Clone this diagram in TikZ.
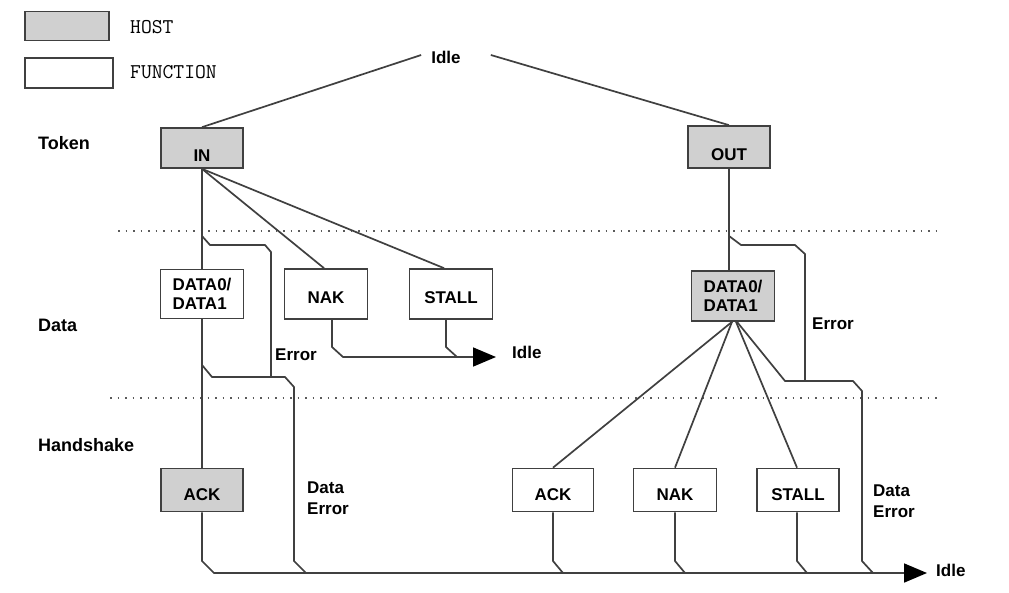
\documentclass[tikz,border=0pt]{standalone}
\usepackage{fontspec}
\setmainfont{Liberation Sans}
\usetikzlibrary{arrows.meta}
\definecolor{hostgray}{RGB}{208,208,208}
\definecolor{lineclr}{RGB}{64,64,64}
\definecolor{dotclr}{RGB}{90,90,90}
\begin{document}
\begin{tikzpicture}[x=1pt,y=-1pt,
 box/.style={draw=lineclr,line width=1.7pt,inner sep=0pt,align=left,font=\fontsize{17}{19}\selectfont\bfseries},
 host/.style={box,fill=hostgray},
 func/.style={box,fill=white},
 conn/.style={draw=lineclr,line width=1.7pt},
 arr/.style={conn,-{Triangle[length=23pt,width=19pt,color=black]}},
 lbl/.style={font=\fontsize{17}{21}\selectfont\bfseries,inner sep=0pt,align=left},
 lvl/.style={font=\fontsize{18}{20}\selectfont\bfseries,inner sep=0pt,anchor=west},
 legend/.style={font=\ttfamily\fontsize{21}{24}\selectfont,inner sep=0pt,anchor=west},
 dots/.style={draw=dotclr,line width=1.3pt,dash pattern=on 1.5pt off 6pt},
 low/.style={text height=#1,text depth=0pt}
]
\useasboundingbox (0,0) rectangle (1009,592);
\fill[white] (0,0) rectangle (1009,592);

% legend
\node[host,minimum width=84pt,minimum height=29pt] (lgH) at (67,26) {};
\node[legend] (lgHt) at (130,27) {HOST};
\node[func,minimum width=88pt,minimum height=30pt] (lgF) at (69,73) {};
\node[legend] (lgFt) at (130,72) {FUNCTION};

% level labels
\node[lvl] (lvT) at (38,143) {Token};
\node[lvl] (lvD) at (38,325) {Data};
\node[lvl] (lvH) at (38,445) {Handshake};

% dotted separators
\coordinate (d1a) at (118,231); \coordinate (d1b) at (940,231);
\coordinate (d2a) at (110,398); \coordinate (d2b) at (940,398);
\draw[dots] (d1a) -- (d1b);
\draw[dots] (d2a) -- (d2b);

% boxes
\node[host,minimum width=82pt,minimum height=40pt,low=26pt] (IN) at (202,148) {IN};
\node[host,minimum width=82pt,minimum height=42pt,low=26pt] (OUT) at (729,147) {OUT};
\node[func,minimum width=83pt,minimum height=49pt] (DL) at (202,294) {DATA0/\\DATA1};
\node[func,minimum width=83pt,minimum height=50pt,low=18pt] (NL) at (326,294) {NAK};
\node[func,minimum width=83pt,minimum height=50pt,low=18pt] (SL) at (451,294) {STALL};
\node[host,minimum width=83pt,minimum height=50pt] (DR) at (733,296) {DATA0/\\DATA1};
\node[host,minimum width=82pt,minimum height=43pt,low=20pt] (AL) at (202,490) {ACK};
\node[func,minimum width=81pt,minimum height=43pt,low=20pt] (AR) at (553,490) {ACK};
\node[func,minimum width=83pt,minimum height=43pt,low=20pt] (NR) at (675,490) {NAK};
\node[func,minimum width=82pt,minimum height=43pt,low=20pt] (SR) at (798,490) {STALL};

% text labels
\node[lbl,anchor=center] (idleT) at (446,57) {Idle};
\node[lbl,anchor=west] (idleM) at (512,352) {Idle};
\node[lbl,anchor=west] (idleB) at (936,570) {Idle};
\node[lbl,anchor=west] (errL) at (275,355) {Error};
\node[lbl,anchor=west] (errR) at (812,324) {Error};
\node[lbl,anchor=north west] (deL) at (307,482) {Data\\Error};
\node[lbl,anchor=north west] (deR) at (873,485) {Data\\Error};

% Idle to tokens
\draw[conn] (IN.north) -- ([xshift=-10pt,yshift=2pt]idleT.west);
\draw[conn] ([xshift=30pt,yshift=2pt]idleT.east) -- (OUT.north);

% IN branch
\draw[conn] (IN.south) -- (DL.north);
\draw[conn] (IN.south) -- ([xshift=-2pt]NL.north);
\draw[conn] (IN.south) -- ([xshift=-7pt]SL.north);
\coordinate (jL1) at (202,236);
\coordinate (jL2) at (271,377);
\draw[conn] (jL1) -- (210,245) -- (265,245) -- (271,252) -- (jL2);
\draw[conn] (DL.south) -- (AL.north);
\coordinate (jL3) at (202,365);
\coordinate (bL2) at (306,573);
\draw[conn] (jL3) -- (212,377) -- (285,377) -- (294,387) -- (294,561) -- (bL2);
\draw[arr,shorten >=9pt] (AL.south) -- (202,561) -- (214,573) -- (idleB.west|-bL2);

% NAK / STALL to Idle
\coordinate (mS) at (457,357);
\draw[arr,shorten >=16pt] ([xshift=6pt]NL.south) -- (332,347) -- (343,357) -- (idleM.west|-mS);
\draw[conn] ([xshift=-5pt]SL.south) -- (446,347) -- (mS);

% OUT branch
\draw[conn] (OUT.south) -- (OUT.south|-DR.north);
\coordinate (jR1) at (729,236);
\coordinate (jR2) at (805,381);
\draw[conn] (jR1) -- (741,245) -- (795,245) -- (805,254) -- (jR2);
\draw[conn] ([xshift=-1pt]DR.south) -- (AR.north);
\draw[conn] ([xshift=-1pt]DR.south) -- (NR.north);
\draw[conn] ([xshift=3pt]DR.south) -- ([xshift=-1pt]SR.north);
\coordinate (bR4) at (873,573);
\draw[conn] ([xshift=4pt]DR.south) -- (785,381) -- (853,381) -- (862,391) -- (862,561) -- (bR4);
\coordinate (bR1) at (563,573);
\coordinate (bR2) at (685,573);
\coordinate (bR3) at (807,573);
\draw[conn] (AR.south) -- (553,561) -- (bR1);
\draw[conn] (NR.south) -- (675,561) -- (bR2);
\draw[conn] ([xshift=-1pt]SR.south) -- (797,561) -- (bR3);
\end{tikzpicture}
\end{document}
